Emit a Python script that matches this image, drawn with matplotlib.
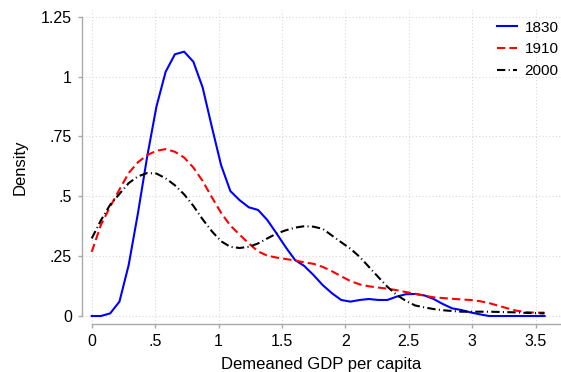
import matplotlib
matplotlib.use("Agg")
import matplotlib.pyplot as plt

# Evaluation points (kdensity grid, 50 points from 0 to 3.57)
x_grid = [0.0000, 0.0729, 0.1457, 0.2186, 0.2914, 0.3643, 0.4371, 0.5100, 0.5829, 0.6557,
          0.7286, 0.8014, 0.8743, 0.9471, 1.0200, 1.0929, 1.1657, 1.2386, 1.3114, 1.3843,
          1.4571, 1.5300, 1.6029, 1.6757, 1.7486, 1.8214, 1.8943, 1.9671, 2.0400, 2.1129,
          2.1857, 2.2586, 2.3314, 2.4043, 2.4771, 2.5500, 2.6229, 2.6957, 2.7686, 2.8414,
          2.9143, 2.9871, 3.0600, 3.1329, 3.2057, 3.2786, 3.3514, 3.4243, 3.4971, 3.5700]

dens_1830 = [0.000, 0.000, 0.011, 0.060, 0.213, 0.429, 0.665, 0.874, 1.020, 1.093,
             1.104, 1.062, 0.955, 0.790, 0.630, 0.522, 0.484, 0.454, 0.443, 0.401,
             0.345, 0.287, 0.234, 0.209, 0.171, 0.129, 0.095, 0.067, 0.060, 0.067,
             0.071, 0.067, 0.067, 0.081, 0.091, 0.092, 0.086, 0.071, 0.050, 0.032,
             0.025, 0.015, 0.007, 0.000, 0.000, 0.000, 0.000, 0.000, 0.000, 0.000]

dens_1910 = [0.268, 0.381, 0.457, 0.528, 0.597, 0.642, 0.672, 0.690, 0.697, 0.686,
             0.662, 0.620, 0.564, 0.496, 0.431, 0.378, 0.340, 0.303, 0.270, 0.252,
             0.244, 0.238, 0.232, 0.224, 0.218, 0.205, 0.187, 0.166, 0.146, 0.132,
             0.124, 0.119, 0.114, 0.108, 0.100, 0.093, 0.085, 0.078, 0.075, 0.072,
             0.069, 0.067, 0.062, 0.054, 0.043, 0.032, 0.022, 0.016, 0.014, 0.014]

dens_2000 = [0.324, 0.400, 0.465, 0.510, 0.555, 0.583, 0.597, 0.595, 0.575, 0.546,
             0.508, 0.460, 0.404, 0.354, 0.312, 0.289, 0.284, 0.289, 0.303, 0.324,
             0.344, 0.358, 0.369, 0.375, 0.373, 0.364, 0.336, 0.308, 0.281, 0.247,
             0.205, 0.163, 0.122, 0.088, 0.063, 0.044, 0.036, 0.029, 0.024, 0.021,
             0.018, 0.018, 0.018, 0.018, 0.017, 0.016, 0.015, 0.013, 0.012, 0.011]

series_labels = ["1830", "1910", "2000"]
x_ticks = [0, 0.5, 1, 1.5, 2, 2.5, 3, 3.5]
x_ticklabels = ["0", ".5", "1", "1.5", "2", "2.5", "3", "3.5"]
y_ticks = [0, 0.25, 0.5, 0.75, 1, 1.25]
y_ticklabels = ["0", ".25", ".5", ".75", "1", "1.25"]
x_label = "Demeaned GDP per capita"
y_label = "Density"

plt.rcParams['font.family'] = ['Liberation Sans', 'DejaVu Sans']

W, H = 561, 372
fig = plt.figure(figsize=(W / 100, H / 100), dpi=100)
left_px, right_px, bottom_px, top_px = 81.7, 561, 324, 10
ax = fig.add_axes([left_px / W, (H - bottom_px) / H,
                   (right_px - left_px) / W, (bottom_px - top_px) / H])

lw = 1.5
ax.plot(x_grid, dens_1830, color='#0000FF', lw=lw, label=series_labels[0], zorder=3)
ax.plot(x_grid, dens_1910, color='#FF0000', lw=lw, dashes=(4, 2), label=series_labels[1], zorder=3)
ax.plot(x_grid, dens_2000, color='black', lw=lw, dashes=(4, 1.6, 0.5, 1.6), label=series_labels[2], zorder=3)

ax.set_xlim(-0.079, 3.70)
ax.set_ylim(-0.0334, 1.278)

ax.set_xticks(x_ticks)
ax.set_xticklabels(x_ticklabels)
ax.set_yticks(y_ticks)
ax.set_yticklabels(y_ticklabels)

for s in ['top', 'right']:
    ax.spines[s].set_visible(False)
ax.spines['left'].set_bounds(0, 1.25)
ax.spines['bottom'].set_bounds(0, 3.70)
for s in ['left', 'bottom']:
    ax.spines[s].set_color('#aaaaaa')
    ax.spines[s].set_linewidth(1.0)

ax.tick_params(axis='both', direction='out', length=3, width=1.0, color='#aaaaaa',
               labelsize=11.5, labelcolor='black', pad=4)
ax.grid(True, color='#d8d8d8', linestyle=(0, (1, 2)), linewidth=0.8, zorder=0)

ax.set_xlabel(x_label, fontsize=12, labelpad=6)
ax.set_ylabel(y_label, fontsize=12, labelpad=9.5)

fig.legend(loc='upper left', bbox_to_anchor=(497 / W, 1 - 20.5 / H), frameon=False,
           fontsize=11, handlelength=1.3, handletextpad=0.5, labelspacing=0.52,
           borderpad=0, borderaxespad=0)

fig.savefig('out.png', dpi=100)
